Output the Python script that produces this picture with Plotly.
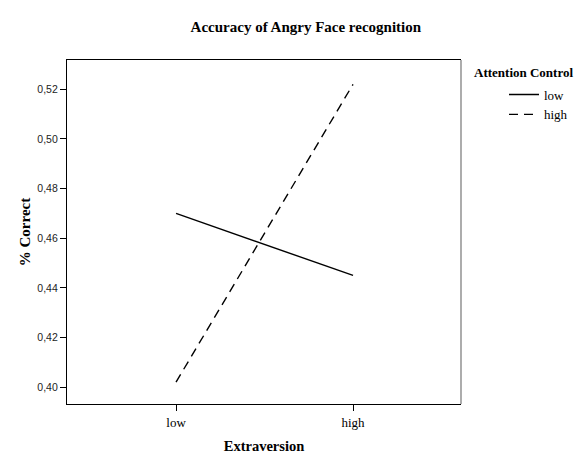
import plotly.graph_objects as go

extraversion = ["low", "high"]
attention_levels = ["low", "high"]
correct_low_attention = [0.470, 0.445]
correct_high_attention = [0.402, 0.522]
y_ticks = [0.40, 0.42, 0.44, 0.46, 0.48, 0.50, 0.52]

serif = "Liberation Serif, Times New Roman, serif"
sans = "Liberation Sans, Arial, sans-serif"

fig = go.Figure()
fig.add_trace(go.Scatter(
    x=[0, 1], y=correct_low_attention, mode="lines", name=attention_levels[0],
    line=dict(color="black", width=1.4, dash="solid"),
))
fig.add_trace(go.Scatter(
    x=[0, 1], y=correct_high_attention, mode="lines", name=attention_levels[1],
    line=dict(color="black", width=1.4, dash="9px,6px"),
))

fig.update_layout(
    width=584, height=456,
    margin=dict(l=59, r=131, t=52, b=52),
    paper_bgcolor="white", plot_bgcolor="white",
    separators=",.",
    title=dict(text="<b>Accuracy of Angry Face recognition</b>", x=0.51, xanchor="center",
               y=1 - 19 / 456, yanchor="middle", xref="container", yref="container",
               font=dict(family=serif, size=15, color="black")),
    xaxis=dict(
        tickmode="array", tickvals=[0, 1], ticktext=extraversion,
        range=[-0.616, 1.61], showgrid=False, zeroline=False,
        showline=True, linecolor="black", linewidth=1.3, mirror=True,
        ticks="outside", ticklen=6, tickcolor="black", tickwidth=1.3,
        tickfont=dict(family=serif, size=13, color="black"),
        title=dict(text="<b>Extraversion</b>", font=dict(family=serif, size=14.5, color="black"), standoff=12),
    ),
    yaxis=dict(
        tickmode="array", tickvals=y_ticks, tickformat=".2f",
        range=[0.3932, 0.5318], showgrid=False, zeroline=False,
        showline=True, linecolor="black", linewidth=1.3, mirror=False,
        ticks="outside", ticklen=6, tickcolor="black", tickwidth=1.3,
        tickfont=dict(family=sans, size=10.5, color="#222"),
        title=dict(text="<b>% Correct</b>", font=dict(family=serif, size=15, color="black"), standoff=3),
    ),
    legend=dict(
        x=1.0 + (496 - 453) / 394, xanchor="left", y=1 - (72 - 52) / 352, yanchor="top",
        font=dict(family=serif, size=13, color="black"),
        bgcolor="rgba(0,0,0,0)", itemwidth=30, tracegroupgap=0,
    ),
    showlegend=True,
)

fig.add_shape(type="line", xref="paper", yref="paper", x0=1, x1=1, y0=0, y1=1,
              line=dict(color="#808080", width=1.3))
fig.add_annotation(text="<b>Attention Control</b>", xref="paper", yref="paper",
                   x=1.0 + (465 - 453) / 394, y=1 - (65 - 52) / 352, xanchor="left", yanchor="middle",
                   showarrow=False, borderpad=0, font=dict(family=serif, size=13, color="black"))

fig.write_html("out.html")
